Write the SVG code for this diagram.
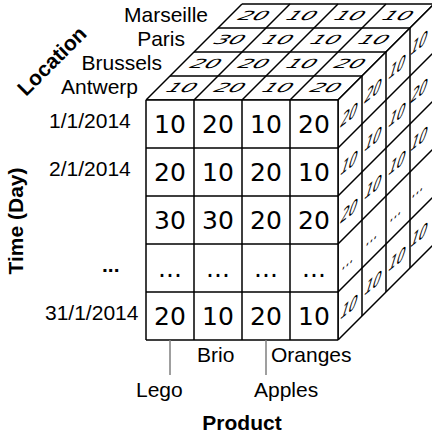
<svg xmlns="http://www.w3.org/2000/svg" width="432" height="437" viewBox="0 0 432 437">
<style>
.ln{stroke:#000;stroke-width:1.5;fill:none}
.face{fill:#fff;stroke:none}
.fn{font-family:"DejaVu Sans","Verdana",sans-serif;font-size:25px;fill:#000;text-anchor:middle}
.sn{font-family:"DejaVu Sans","Verdana",sans-serif;font-size:23px;fill:#000;text-anchor:middle}
.rn{font-family:"DejaVu Sans","Verdana",sans-serif;font-size:25px;fill:#000;text-anchor:middle}
.lb{font-family:"Liberation Sans",Arial,sans-serif;font-size:21px;fill:#000}
.bd{font-family:"Liberation Sans",Arial,sans-serif;font-size:21px;font-weight:bold;fill:#000}
.ld{stroke:#808080;stroke-width:1.5;fill:none}
</style>
<rect width="432" height="437" fill="#fff"/>
<g id="cube">
  <g id="top-face">
    <polygon class="face" points="146,100 338,100 434,4 242,4"/>
    <path class="ln" d="M146,100H338M170,76H362M194,52H386M218,28H410M242,4H434"/>
    <path class="ln" d="M146,100L242,4M194,100L290,4M242,100L338,4M290,100L386,4M338,100L434,4"/>
    <g class="sn">
      <text transform="matrix(1,0,-0.55,0.55,182,88)" y="8">10</text>
      <text transform="matrix(1,0,-0.55,0.55,230,88)" y="8">20</text>
      <text transform="matrix(1,0,-0.55,0.55,278,88)" y="8">10</text>
      <text transform="matrix(1,0,-0.55,0.55,326,88)" y="8">20</text>
      <text transform="matrix(1,0,-0.55,0.55,206,64)" y="8">20</text>
      <text transform="matrix(1,0,-0.55,0.55,254,64)" y="8">20</text>
      <text transform="matrix(1,0,-0.55,0.55,302,64)" y="8">10</text>
      <text transform="matrix(1,0,-0.55,0.55,350,64)" y="8">20</text>
      <text transform="matrix(1,0,-0.55,0.55,230,40)" y="8">30</text>
      <text transform="matrix(1,0,-0.55,0.55,278,40)" y="8">10</text>
      <text transform="matrix(1,0,-0.55,0.55,326,40)" y="8">10</text>
      <text transform="matrix(1,0,-0.55,0.55,374,40)" y="8">10</text>
      <text transform="matrix(1,0,-0.55,0.55,254,16)" y="8">20</text>
      <text transform="matrix(1,0,-0.55,0.55,302,16)" y="8">10</text>
      <text transform="matrix(1,0,-0.55,0.55,350,16)" y="8">10</text>
      <text transform="matrix(1,0,-0.55,0.55,398,16)" y="8">10</text>
    </g>
  </g>
  <g id="right-face">
    <polygon class="face" points="338,100 434,4 434,244 338,340"/>
    <path class="ln" d="M338,100V340M362,76V316M386,52V292M410,28V268M434,4V244"/>
    <path class="ln" d="M338,100L434,4M338,148L434,52M338,196L434,100M338,244L434,148M338,292L434,196M338,340L434,244"/>
    <g class="rn">
      <text transform="matrix(0.5,-0.4,-0.26,0.85,350,112)" y="12">20</text>
      <text transform="matrix(0.5,-0.4,-0.26,0.85,350,160)" y="12">10</text>
      <text transform="matrix(0.5,-0.4,-0.26,0.85,350,208)" y="12">20</text>
      <text transform="matrix(0.5,-0.4,-0.26,0.85,350,256)" y="12">...</text>
      <text transform="matrix(0.5,-0.4,-0.26,0.85,350,304)" y="12">10</text>
      <text transform="matrix(0.5,-0.4,-0.26,0.85,374,88)" y="12">20</text>
      <text transform="matrix(0.5,-0.4,-0.26,0.85,374,136)" y="12">10</text>
      <text transform="matrix(0.5,-0.4,-0.26,0.85,374,184)" y="12">10</text>
      <text transform="matrix(0.5,-0.4,-0.26,0.85,374,232)" y="12">...</text>
      <text transform="matrix(0.5,-0.4,-0.26,0.85,374,280)" y="12">10</text>
      <text transform="matrix(0.5,-0.4,-0.26,0.85,398,64)" y="12">10</text>
      <text transform="matrix(0.5,-0.4,-0.26,0.85,398,112)" y="12">10</text>
      <text transform="matrix(0.5,-0.4,-0.26,0.85,398,160)" y="12">10</text>
      <text transform="matrix(0.5,-0.4,-0.26,0.85,398,208)" y="12">...</text>
      <text transform="matrix(0.5,-0.4,-0.26,0.85,398,256)" y="12">10</text>
      <text transform="matrix(0.5,-0.4,-0.26,0.85,420,40)" y="12">10</text>
      <text transform="matrix(0.5,-0.4,-0.26,0.85,420,88)" y="12">20</text>
      <text transform="matrix(0.5,-0.4,-0.26,0.85,420,136)" y="12">10</text>
      <text transform="matrix(0.5,-0.4,-0.26,0.85,420,184)" y="12">...</text>
      <text transform="matrix(0.5,-0.4,-0.26,0.85,420,232)" y="12">10</text>
    </g>
  </g>
  <g id="front-face">
    <rect class="face" x="146" y="100" width="192" height="240"/>
    <path class="ln" d="M146,100H338M146,148H338M146,196H338M146,244H338M146,292H338M146,340H338"/>
    <path class="ln" d="M146,100V340M194,100V340M242,100V340M290,100V340M338,100V340"/>
    <g class="fn">
      <text x="170" y="133">10</text><text x="218" y="133">20</text><text x="266" y="133">10</text><text x="314" y="133">20</text>
      <text x="170" y="181">20</text><text x="218" y="181">10</text><text x="266" y="181">20</text><text x="314" y="181">10</text>
      <text x="170" y="229">30</text><text x="218" y="229">30</text><text x="266" y="229">20</text><text x="314" y="229">20</text>
      <text x="170" y="277">...</text><text x="218" y="277">...</text><text x="266" y="277">...</text><text x="314" y="277">...</text>
      <text x="170" y="325">20</text><text x="218" y="325">10</text><text x="266" y="325">20</text><text x="314" y="325">10</text>
    </g>
  </g>
</g>
<g id="location-axis">
  <text class="bd" transform="translate(26,97) rotate(-45)">Location</text>
  <text id="loc-marseille" class="lb" x="208" y="22" text-anchor="end">Marseille</text>
  <text id="loc-paris" class="lb" x="185" y="46" text-anchor="end">Paris</text>
  <text id="loc-brussels" class="lb" x="162" y="70" text-anchor="end">Brussels</text>
  <text id="loc-antwerp" class="lb" x="138" y="94" text-anchor="end">Antwerp</text>
</g>
<g id="time-axis">
  <text class="bd" transform="translate(23,221) rotate(-90)" text-anchor="middle">Time (Day)</text>
  <text id="t1" class="lb" x="49" y="128">1/1/2014</text>
  <text id="t2" class="lb" x="49" y="176">2/1/2014</text>
  <text id="t3" class="bd" x="102" y="272">...</text>
  <text id="t4" class="lb" x="45" y="320">31/1/2014</text>
</g>
<g id="connectors">
  <path class="ld" d="M170,340V375M266,340V375"/>
</g>
<g id="product-axis">
  <text id="p-brio" class="lb" x="197" y="362">Brio</text>
  <text id="p-oranges" class="lb" x="271" y="362">Oranges</text>
  <text id="p-lego" class="lb" x="136" y="397">Lego</text>
  <text id="p-apples" class="lb" x="254" y="397">Apples</text>
  <text class="bd" x="242" y="430" text-anchor="middle">Product</text>
</g>
</svg>
